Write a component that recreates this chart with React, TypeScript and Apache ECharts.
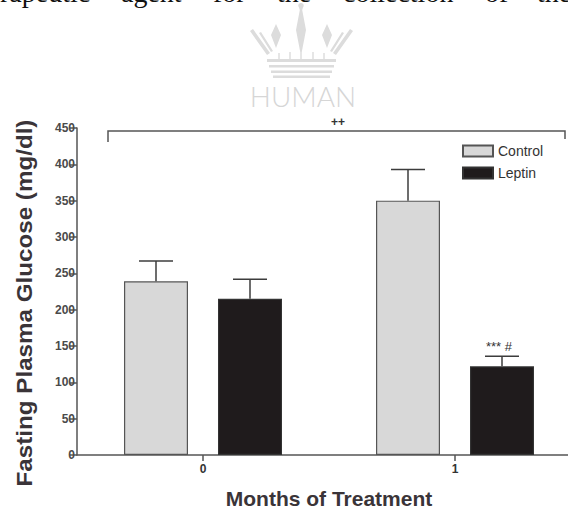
import React, { useEffect, useRef } from "react";
import * as echarts from "echarts";

// ---- data ----
const months = ["0", "1"];
const seriesNames = ["Control", "Leptin"];
const controlMeans = [239, 350];
const controlSEM = [28, 43];
const leptinMeans = [215, 122];
const leptinSEM = [27, 14];
const yMin = 0;
const yMax = 450;
const yInterval = 50;

const xTitle = "Months of Treatment";
const yTitle = "Fasting Plasma Glucose (mg/dl)";
const bracketLabel = "++";
const leptinSigLabel = "*** #";

const topWords = ["rapeutic", "agent", "for", "the", "collection", "of", "the"];
const topWordX = [0, 121, 213, 277, 343, 485, 537];

// ---- style constants ----
const CHART_W = 581; // plot runs past the right edge of the 568px page, as in the reference
const CHART_H = 514;
const BAR_W = 64;
const BAR_GAP_PX = 30;
const CAP_HALF = 17;
const SANS = "Liberation Sans, Arial, Helvetica, sans-serif";

const crownPath =
  "M52 0 C54.5 0 55.5 2.5 54 4.5 L53.2 7 L57 27 L52 53 L47 27 L50.8 7 L50 4.5 C48.5 2.5 49.5 0 52 0 Z " +
  "M27 21 L32 32 L27 45 L22 32 Z M78 21 L83 32 L78 45 L73 32 Z " +
  "M1 28 L4 26 L21 50 L18 52 Z M104 28 L101 26 L84 50 L87 52 Z " +
  "M10 30 L12 29 L24 48 L22 49 Z M95 30 L93 29 L81 48 L83 49 Z " +
  "M18 56 L87 56 L87 59 L18 59 Z M20 62 L85 62 L85 64.5 L20 64.5 Z " +
  "M22 67.5 L83 67.5 L83 70 L22 70 Z M24 72.5 L81 72.5 L81 75 L24 75 Z " +
  "M29.3 50 L30.7 50 L30.7 56 L29.3 56 Z M40.3 49 L41.7 49 L41.7 56 L40.3 56 Z " +
  "M51.3 47 L52.7 47 L52.7 56 L51.3 56 Z M63.3 49 L64.7 49 L64.7 56 L63.3 56 Z " +
  "M74.3 50 L75.7 50 L75.7 56 L74.3 56 Z";

let crownRegistered = false;

export default function App() {
  const ref = useRef<HTMLDivElement>(null);

  useEffect(() => {
    if (!ref.current) return;
    if (!crownRegistered) {
      echarts.graphic.registerShape("crown", echarts.graphic.extendPath(crownPath, {}));
      crownRegistered = true;
    }
    const chart = echarts.init(ref.current, undefined, { renderer: "svg" });

    const offset = (BAR_W + BAR_GAP_PX) / 2;
    const errData = (means: number[], sems: number[]) =>
      means.map((m, i) => [i, m, sems[i]]);

    const makeErr = (name: string, means: number[], sems: number[], dir: number) => ({
      type: "custom",
      name,
      silent: true,
      z: 3,
      encode: { x: 0, y: 1 },
      data: errData(means, sems),
      renderItem: (params: any, api: any) => {
        const cat = api.value(0);
        const mean = api.value(1);
        const sem = api.value(2);
        const base = api.coord([cat, mean]);
        const top = api.coord([cat, mean + sem]);
        const x = base[0] + dir * offset;
        const st = { stroke: "#3c3c3c", lineWidth: 1.5 };
        return {
          type: "group",
          children: [
            { type: "line", shape: { x1: x, y1: base[1], x2: x, y2: top[1] }, style: st },
            { type: "line", shape: { x1: x - CAP_HALF, y1: top[1], x2: x + CAP_HALF, y2: top[1] }, style: st },
          ],
        };
      },
    });

    const graphics: any[] = [
      {
        type: "crown",
        x: 249,
        y: 3,
        silent: true,
        style: { fill: "#dcdcdc" },
      },
      {
        type: "text",
        x: 303,
        y: 96,
        silent: true,
        style: {
          text: "HUMAN",
          fontFamily: "Lato, " + SANS,
          fontWeight: 300,
          fontSize: 28,
          fill: "#d6d6d6",
          align: "center",
          verticalAlign: "middle",
        },
      },
      ...topWords.map((w, i) => ({
        type: "text",
        x: topWordX[i],
        y: -7.5,
        silent: true,
        style: {
          text: w,
          fontFamily: "Liberation Serif, Times New Roman, serif",
          fontSize: 28,
          fill: "#111",
          align: "left",
          verticalAlign: "middle",
        },
      })),
      {
        type: "text",
        x: 24,
        y: 303,
        rotation: Math.PI / 2,
        scaleX: 1.1,
        silent: true,
        style: {
          text: yTitle,
          fontFamily: SANS,
          fontWeight: "bold",
          fontSize: 22,
          fill: "#3a3438",
          align: "center",
          verticalAlign: "middle",
        },
      },
      {
        type: "polyline",
        silent: true,
        shape: { points: [[108, 142], [108, 131], [565, 131], [565, 139]] },
        style: { stroke: "#555", lineWidth: 1.5, fill: "none" },
      },
      {
        type: "text",
        x: 338,
        y: 122,
        silent: true,
        style: {
          text: bracketLabel,
          fontFamily: SANS,
          fontWeight: "bold",
          fontSize: 12,
          fill: "#333",
          align: "center",
          verticalAlign: "middle",
        },
      },
      {
        type: "text",
        x: 499,
        y: 346,
        silent: true,
        style: {
          text: leptinSigLabel,
          fontFamily: SANS,
          fontSize: 13,
          fill: "#333",
          align: "center",
          verticalAlign: "middle",
        },
      },
    ];

    chart.setOption({
      animation: false,
      backgroundColor: "#ffffff",
      textStyle: { fontFamily: SANS },
      grid: { left: 77, right: 0, top: 128, bottom: 53, containLabel: false },
      legend: {
        data: seriesNames,
        orient: "vertical",
        left: 462,
        top: 144,
        padding: 0,
        itemWidth: 30,
        itemHeight: 11,
        itemGap: 8,
        icon: "rect",
        textStyle: { fontSize: 14, color: "#333", fontFamily: SANS },
      },
      xAxis: {
        type: "category",
        data: months,
        name: xTitle,
        nameLocation: "middle",
        nameGap: 33,
        nameTextStyle: { fontSize: 21, fontWeight: "bold", color: "#3a3438", fontFamily: SANS },
        axisLine: { show: true, lineStyle: { color: "#555", width: 1.5 } },
        axisTick: { show: true, alignWithLabel: true, length: 6, lineStyle: { color: "#555", width: 1.5 } },
        axisLabel: { margin: 8, fontSize: 12, fontWeight: "bold", color: "#333" },
        splitLine: { show: false },
      },
      yAxis: {
        type: "value",
        min: yMin,
        max: yMax,
        interval: yInterval,
        axisLine: { show: true, lineStyle: { color: "#555", width: 1.5 } },
        axisTick: { show: true, length: 7, lineStyle: { color: "#555", width: 1.5 } },
        axisLabel: { margin: 2, fontSize: 12, fontWeight: "bold", color: "#4a4a4a" },
        splitLine: { show: false },
      },
      series: [
        {
          type: "bar",
          name: seriesNames[0],
          data: controlMeans,
          barWidth: BAR_W,
          barGap: (BAR_GAP_PX / BAR_W) * 100 + "%",
          itemStyle: { color: "#d8d8d8", borderColor: "#555", borderWidth: 1.2 },
          z: 2,
        },
        {
          type: "bar",
          name: seriesNames[1],
          data: leptinMeans,
          barWidth: BAR_W,
          barGap: (BAR_GAP_PX / BAR_W) * 100 + "%",
          itemStyle: { color: "#1f1b1c", borderColor: "#333", borderWidth: 1.2 },
          z: 2,
        },
        makeErr("Control SEM", controlMeans, controlSEM, -1),
        makeErr("Leptin SEM", leptinMeans, leptinSEM, 1),
      ],
      graphic: graphics,
    });

    return () => chart.dispose();
  }, []);

  return (
    <div style={{ position: "fixed", left: 0, top: 0, width: 568, height: CHART_H, overflow: "hidden", background: "#fff" }}>
      <div ref={ref} style={{ width: CHART_W, height: CHART_H }} />
    </div>
  );
}
